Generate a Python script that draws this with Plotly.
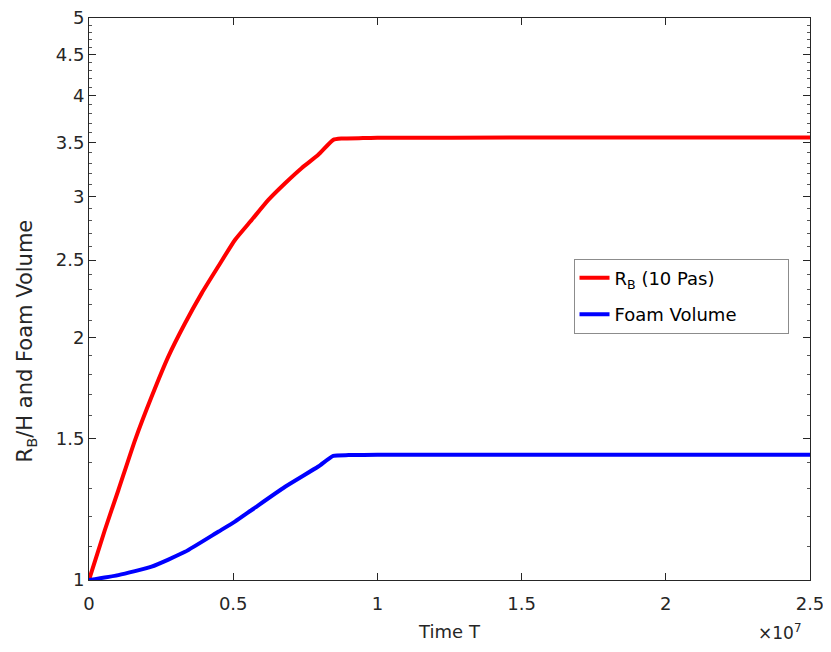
import math
import plotly.graph_objects as go

# Time in units of 1e7
time_red = [0.0, 0.055, 0.102, 0.160, 0.217, 0.275, 0.333, 0.391, 0.448,
            0.506, 0.564, 0.622, 0.680, 0.737, 0.795, 0.847, 0.876, 0.95, 1.0,
            1.5, 2.0, 2.5]
rb_10pas = [1.0, 1.154, 1.294, 1.494, 1.690, 1.896, 2.086, 2.274, 2.454,
            2.648, 2.804, 2.970, 3.115, 3.252, 3.379, 3.527, 3.540, 3.545, 3.548,
            3.550, 3.550, 3.550]

time_blue = [0.0, 0.102, 0.217, 0.333, 0.448, 0.506, 0.564, 0.680, 0.795, 0.847,
             0.9, 1.0, 1.5, 2.0, 2.5]
foam_volume = [1.0, 1.014, 1.039, 1.084, 1.148, 1.182, 1.222, 1.306, 1.384, 1.427,
               1.430, 1.431, 1.431, 1.431, 1.431]

x_ticks = [0, 0.5, 1, 1.5, 2, 2.5]
y_ticks = [1, 1.5, 2, 2.5, 3, 3.5, 4, 4.5, 5]
y_minor = [round(1 + 0.1 * i, 1) for i in range(1, 40)]
y_minor = [v for v in y_minor if v not in y_ticks]

FONT = "DejaVu Sans, Arial, sans-serif"
INK = "#262626"
PAD = "\u00a0" * 8  # widen the legend box a bit

fig = go.Figure()
fig.add_trace(go.Scatter(x=time_red, y=rb_10pas, mode="lines",
                         name="R<sub>B</sub> (10 Pas)", legendgroup="a",
                         line=dict(color="#ff0000", width=4, shape="spline", smoothing=0.5)))
fig.add_trace(go.Scatter(x=time_blue, y=foam_volume, mode="lines",
                         name="Foam Volume" + PAD, legendgroup="b",
                         line=dict(color="#0000ff", width=4, shape="spline", smoothing=0.5)))

axis_common = dict(showline=True, linecolor=INK, linewidth=1, mirror="allticks",
                   ticks="inside", ticklen=7, tickcolor=INK, showgrid=False,
                   zeroline=False, tickfont=dict(size=18, color=INK),
                   ticklabeloverflow="allow", automargin=False)

fig.update_xaxes(range=[0, 2.5], tickmode="array", tickvals=x_ticks,
                 ticktext=[f"{v:g}" for v in x_ticks], ticklabelstandoff=7,
                 title=dict(text="Time T", font=dict(size=18, color=INK), standoff=12),
                 **axis_common)
fig.update_yaxes(type="log", range=[-1e-5, math.log10(5) + 1e-5],
                 tickmode="array", tickvals=y_ticks,
                 ticktext=[f"{v:g}" for v in y_ticks],
                 minor=dict(tickmode="array", tickvals=y_minor, ticks="inside",
                            ticklen=3, tickcolor="#555555"),
                 **axis_common)

# y title as an annotation: in the original it sits below the axis centre
fig.add_annotation(x=-0.087, y=0.425, xref="paper", yref="paper",
                   text="R<sub>B</sub>/H and Foam Volume", textangle=-90,
                   showarrow=False, xanchor="center", yanchor="middle",
                   font=dict(size=21, color=INK))

fig.add_annotation(x=0.99, y=-0.093, xref="paper", yref="paper",
                   text="×10<sup>7</sup>", showarrow=False,
                   xanchor="right", yanchor="middle",
                   font=dict(size=17, color=INK))

# page body adds an 8px margin, so the figure is kept 16px smaller than the window
fig.update_layout(
    width=815, height=636,
    margin=dict(l=81, r=13, t=10, b=64, autoexpand=False),
    paper_bgcolor="white", plot_bgcolor="white",
    font=dict(family=FONT, color=INK),
    showlegend=True,
    legend=dict(x=0.672, y=0.572, xanchor="left", yanchor="top",
                bgcolor="white", bordercolor="#8c8c8c", borderwidth=1,
                font=dict(size=18, color="#000000"), tracegroupgap=10),
)

fig.write_html("out.html")
